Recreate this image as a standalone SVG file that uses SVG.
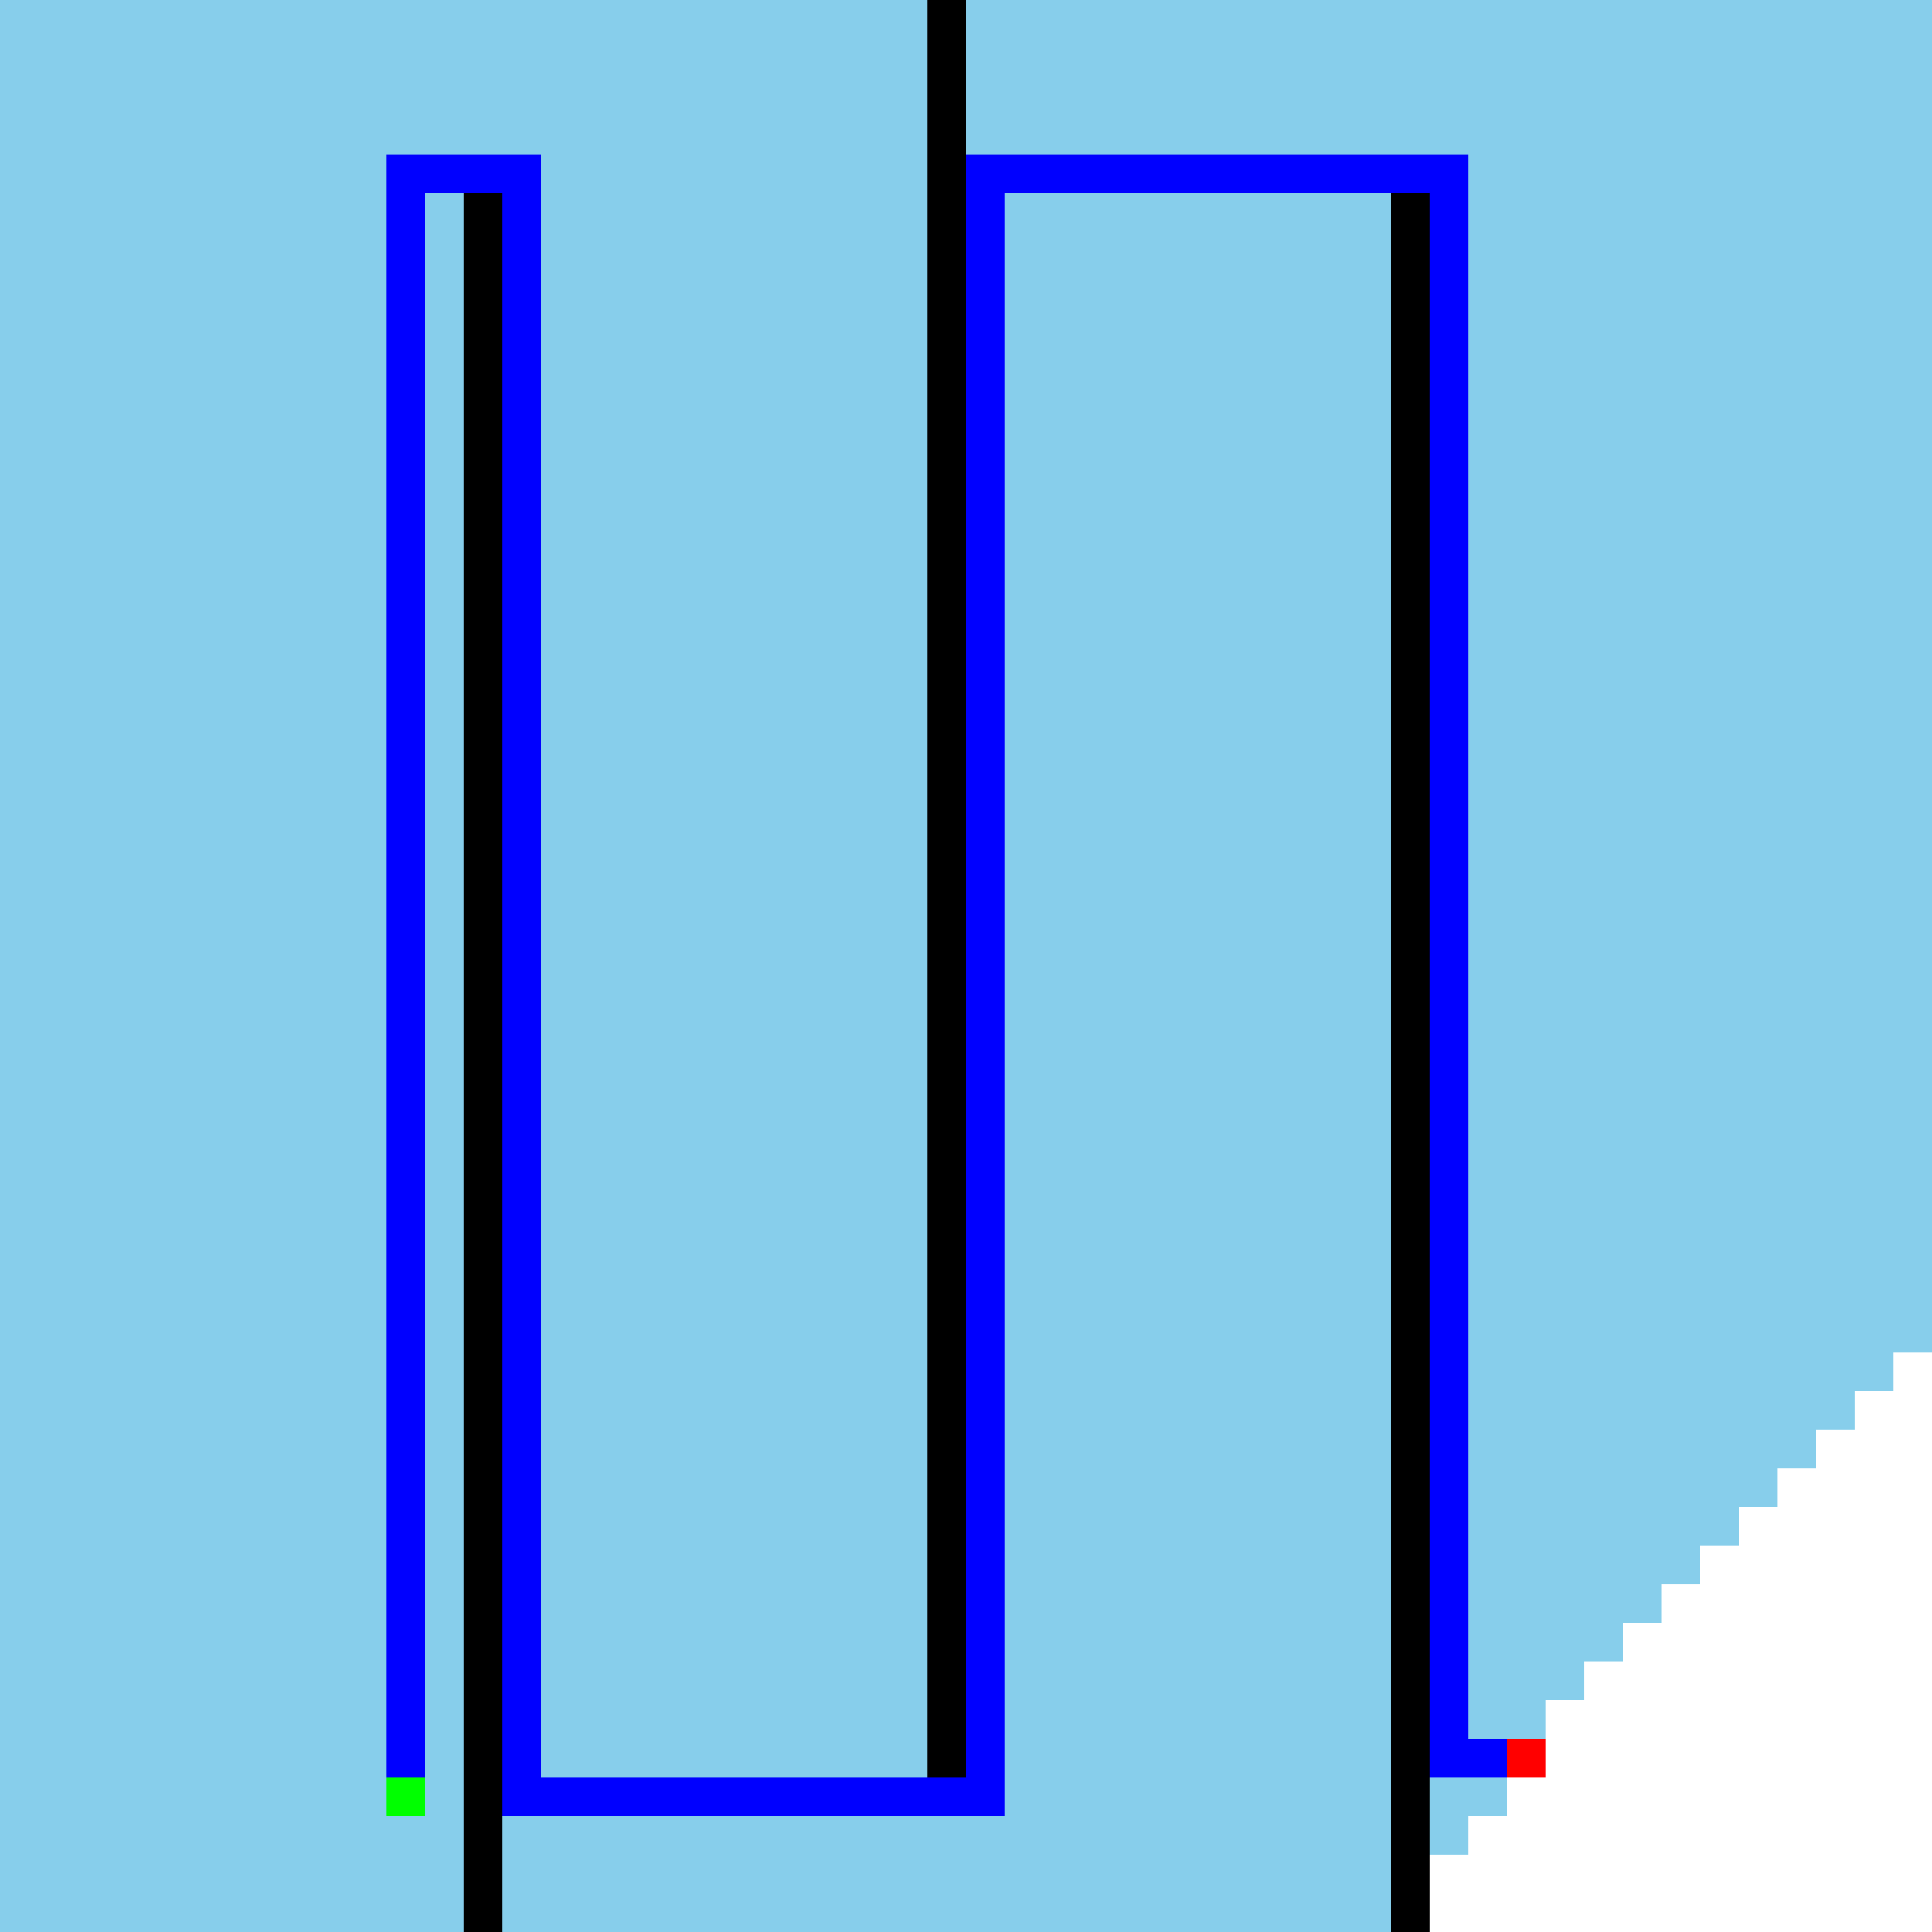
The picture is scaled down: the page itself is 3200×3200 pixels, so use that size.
<svg xmlns="http://www.w3.org/2000/svg" width="3200" height="3200" viewBox="0 0 3200 3200">
<style>
.bg{fill:#87CEEB}
.wall{fill:#000000}
.path{fill:#0000FF}
.start{fill:#00FF00}
.goal{fill:#FF0000}
.void{fill:#FFFFFF}
</style>
<rect class="bg" x="0" y="0" width="3200" height="3200"/>
<polygon id="void" class="void" points="3200,2240 3136,2240 3136,2304 3072,2304 3072,2368 3008,2368 3008,2432 2944,2432 2944,2496 2880,2496 2880,2560 2816,2560 2816,2624 2752,2624 2752,2688 2688,2688 2688,2752 2624,2752 2624,2816 2560,2816 2560,2944 2496,2944 2496,3008 2432,3008 2432,3072 2368,3072 2368,3200 3200,3200"/>
<g id="walls">
<rect class="wall" x="1536" y="0" width="64" height="2944"/>
<rect class="wall" x="768" y="320" width="64" height="2880"/>
<rect class="wall" x="2304" y="320" width="64" height="2880"/>
</g>
<g id="route">
<rect class="path" x="640" y="256" width="64" height="2688"/>
<rect class="path" x="640" y="256" width="256" height="64"/>
<rect class="path" x="832" y="256" width="64" height="2752"/>
<rect class="path" x="832" y="2944" width="832" height="64"/>
<rect class="path" x="1600" y="256" width="64" height="2752"/>
<rect class="path" x="1600" y="256" width="832" height="64"/>
<rect class="path" x="2368" y="256" width="64" height="2688"/>
<rect class="path" x="2368" y="2880" width="128" height="64"/>
</g>
<rect id="start" class="start" x="640" y="2944" width="64" height="64"/>
<rect id="goal" class="goal" x="2496" y="2880" width="64" height="64"/>
</svg>
